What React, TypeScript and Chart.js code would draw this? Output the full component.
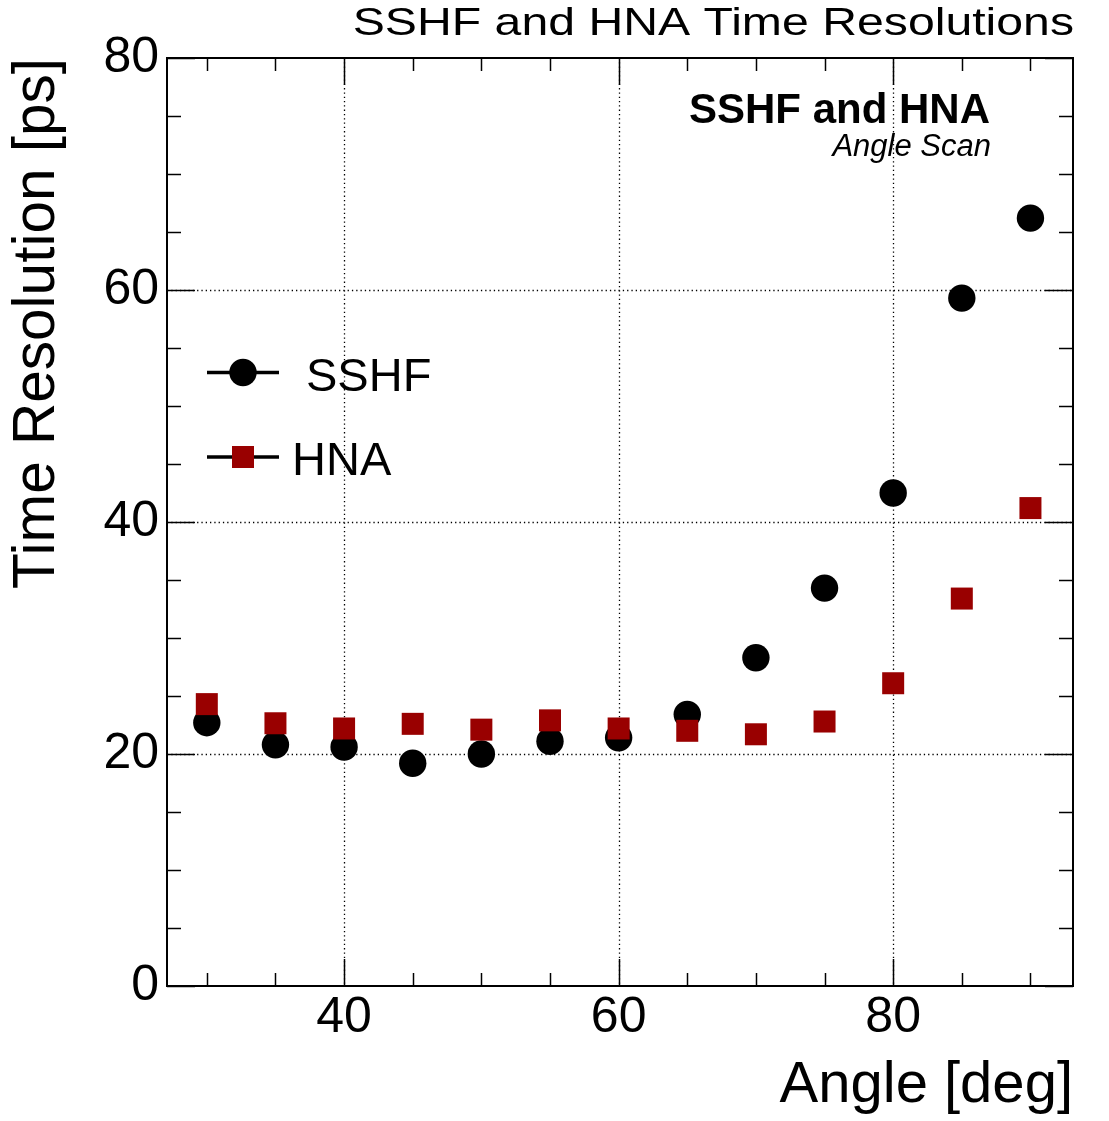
import React, { useEffect, useRef } from "react";
import { Chart, registerables } from "chart.js";

Chart.register(...registerables);

const FONT = "'Liberation Sans', Arial, Helvetica, sans-serif";

const angles = [30, 35, 40, 45, 50, 55, 60, 65, 70, 75, 80, 85, 90];
const sshfValues = [22.7, 20.8, 20.6, 19.2, 20.0, 21.1, 21.4, 23.4, 28.3, 34.3, 42.5, 59.3, 66.2];
const hnaValues = [24.3, 22.65, 22.2, 22.6, 22.1, 22.9, 22.2, 22.0, 21.7, 22.8, 26.1, 33.4, 41.2];

const xMajorTicks = [40, 60, 80];
const xMinorTicks = [30, 35, 45, 50, 55, 65, 70, 75, 85, 90];
const yMajorTicks = [0, 20, 40, 60, 80];
const yMinorTicks = [5, 10, 15, 25, 30, 35, 45, 50, 55, 65, 70, 75];

const seriesNames = ["SSHF", "HNA"];
const chartTitle = "SSHF and HNA Time Resolutions";
const boxTitle = "SSHF and HNA";
const boxSubtitle = "Angle Scan";
const xTitle = "Angle [deg]";
const yTitle = "Time Resolution [ps]";

const HNA_COLOR = "#990000";

const rootPlugin = {
  id: "rootStyle",
  beforeDatasetsDraw(chart: any) {
    const { ctx, chartArea: a, scales } = chart;
    const x = scales.x;
    const y = scales.y;
    ctx.save();
    ctx.strokeStyle = "#000";
    // dotted grid
    ctx.lineWidth = 1.3;
    ctx.setLineDash([1.3, 3.0]);
    for (const v of xMajorTicks) {
      const px = Math.round(x.getPixelForValue(v)) + 0.5;
      ctx.beginPath();
      ctx.moveTo(px, a.top);
      ctx.lineTo(px, a.bottom);
      ctx.stroke();
    }
    for (const v of yMajorTicks) {
      if (v <= y.min || v >= y.max) continue;
      const py = Math.round(y.getPixelForValue(v)) + 0.5;
      ctx.beginPath();
      ctx.moveTo(a.left, py);
      ctx.lineTo(a.right, py);
      ctx.stroke();
    }
    ctx.setLineDash([]);
    // ticks
    ctx.lineWidth = 1.5;
    const seg = (x1: number, y1: number, x2: number, y2: number) => {
      ctx.beginPath();
      ctx.moveTo(x1, y1);
      ctx.lineTo(x2, y2);
      ctx.stroke();
    };
    for (const v of xMajorTicks) {
      const px = Math.round(x.getPixelForValue(v)) + 0.5;
      seg(px, a.bottom, px, a.bottom - 27);
      seg(px, a.top, px, a.top + 27);
    }
    for (const v of xMinorTicks) {
      const px = Math.round(x.getPixelForValue(v)) + 0.5;
      seg(px, a.bottom, px, a.bottom - 13);
      seg(px, a.top, px, a.top + 13);
    }
    for (const v of yMajorTicks) {
      const py = Math.round(y.getPixelForValue(v)) + 0.5;
      seg(a.left, py, a.left + 28, py);
      seg(a.right, py, a.right - 28, py);
    }
    for (const v of yMinorTicks) {
      const py = Math.round(y.getPixelForValue(v)) + 0.5;
      seg(a.left, py, a.left + 14, py);
      seg(a.right, py, a.right - 14, py);
    }
    // frame
    ctx.lineWidth = 2;
    ctx.strokeRect(a.left, a.top, a.right - a.left, a.bottom - a.top);
    ctx.restore();
  },
  afterDraw(chart: any) {
    const { ctx } = chart;
    ctx.save();
    ctx.fillStyle = "#000";
    ctx.textBaseline = "alphabetic";
    // main title (wide rendering as in the reference)
    ctx.save();
    ctx.translate(1074, 35);
    ctx.scale(1.22, 1);
    ctx.font = `39.5px ${FONT}`;
    ctx.textAlign = "right";
    ctx.fillText(chartTitle, 0, 0);
    ctx.restore();
    // box labels
    ctx.textAlign = "right";
    ctx.font = `bold 42px ${FONT}`;
    ctx.fillText(boxTitle, 990, 123);
    ctx.font = `italic 31px ${FONT}`;
    ctx.fillText(boxSubtitle, 991, 156);
    // legend
    ctx.strokeStyle = "#000";
    ctx.lineWidth = 3.5;
    const rows = [372.5, 457];
    for (const ry of rows) {
      ctx.beginPath();
      ctx.moveTo(207, ry);
      ctx.lineTo(279, ry);
      ctx.stroke();
    }
    ctx.fillStyle = "#000";
    ctx.beginPath();
    ctx.arc(243, rows[0], 13.7, 0, Math.PI * 2);
    ctx.fill();
    ctx.fillStyle = HNA_COLOR;
    ctx.fillRect(232, rows[1] - 11, 22, 22);
    ctx.fillStyle = "#000";
    ctx.textAlign = "left";
    ctx.font = `47px ${FONT}`;
    ctx.fillText(seriesNames[0], 306, 391);
    ctx.fillText(seriesNames[1], 292, 475);
    ctx.restore();
  },
};

export default function App() {
  const ref = useRef<HTMLCanvasElement | null>(null);
  useEffect(() => {
    if (!ref.current) return;
    const chart = new Chart(ref.current, {
      type: "scatter",
      data: {
        datasets: [
          {
            label: seriesNames[0],
            data: angles.map((a, i) => ({ x: a, y: sshfValues[i] })),
            pointStyle: "circle",
            pointRadius: 13.7,
            pointBorderWidth: 0,
            backgroundColor: "#000",
            borderColor: "#000",
            showLine: false,
            order: 1,
          },
          {
            label: seriesNames[1],
            data: angles.map((a, i) => ({ x: a, y: hnaValues[i] })),
            pointStyle: "rect",
            pointRadius: 15.56,
            pointBorderWidth: 0,
            backgroundColor: HNA_COLOR,
            borderColor: HNA_COLOR,
            showLine: false,
            order: 0,
          },
        ],
      },
      options: {
        responsive: false,
        animation: false,
        events: [],
        layout: { padding: { left: 0, right: 36, top: 58, bottom: 0 } },
        plugins: {
          legend: { display: false },
          title: { display: false },
          tooltip: { enabled: false },
        },
        scales: {
          x: {
            type: "linear",
            min: 27.1,
            max: 93.1,
            afterBuildTicks: (s: any) => {
              s.ticks = xMajorTicks.map((v) => ({ value: v }));
            },
            afterFit: (s: any) => {
              s.height = 135;
            },
            grid: { display: false, drawTicks: false },
            border: { display: false },
            ticks: {
              font: { family: FONT, size: 50 },
              color: "#000",
              padding: 2,
              maxRotation: 0,
              autoSkip: false,
              callback: (v: any) => String(v),
            },
            title: {
              display: true,
              text: xTitle,
              align: "end",
              color: "#000",
              font: { family: FONT, size: 58 },
              padding: { top: 0, bottom: 0 },
            },
          },
          y: {
            type: "linear",
            min: 0,
            max: 80,
            afterBuildTicks: (s: any) => {
              s.ticks = yMajorTicks.map((v) => ({ value: v }));
            },
            afterFit: (s: any) => {
              s.width = 167;
            },
            grid: { display: false, drawTicks: false },
            border: { display: false },
            ticks: {
              font: { family: FONT, size: 50 },
              color: "#000",
              padding: 8,
              autoSkip: false,
              callback: (v: any) => String(v),
            },
            title: {
              display: true,
              text: yTitle,
              align: "end",
              color: "#000",
              font: { family: FONT, size: 58.5 },
              padding: { top: 3, bottom: 0 },
            },
          },
        },
      },
      plugins: [rootPlugin],
    } as any);
    return () => chart.destroy();
  }, []);
  return (
    <div style={{ position: "absolute", left: 0, top: 0, width: 1109, height: 1121, background: "#fff" }}>
      <canvas ref={ref} width={1109} height={1121} style={{ display: "block" }} />
    </div>
  );
}
